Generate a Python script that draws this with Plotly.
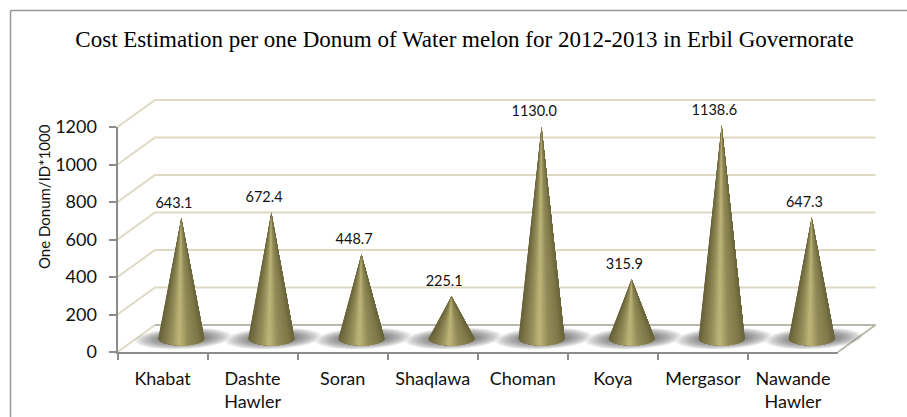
import math
import plotly.graph_objects as go

title = "Cost Estimation per one Donum of Water melon for 2012-2013 in Erbil Governorate"
y_title = "One Donum/ID*1000"
categories = ["Khabat", "Dashte<br>Hawler", "Soran", "Shaqlawa", "Choman", "Koya", "Mergasor", "Nawande<br>Hawler"]
values = [643.1, 672.4, 448.7, 225.1, 1130.0, 315.9, 1138.6, 647.3]
y_ticks = [0, 200, 400, 600, 800, 1000, 1200]

W, H = 907, 417
L, R, B, T = 117.5, 838.0, 352.0, 127.0      # front plot box, pixels
DX, DY = 37.5, 27.0                          # depth offset, pixels
ux = (R - L) / len(categories)               # pixels per category
uy = (B - T) / 1200.0                        # pixels per value unit
dx, dy = DX / ux, DY / uy                    # depth in data units
rx, ry = 23.0 / ux, 7.0 / uy                 # cone base radii

GRID = "#ddd9c3"
AXIS = "#8c8c8c"
STOPS = [(0.0, (104, 99, 58)), (0.12, (125, 119, 72)), (0.35, (146, 139, 88)),
         (0.55, (192, 182, 122)), (0.72, (150, 143, 90)), (1.0, (102, 97, 56))]


def shade(t):
    for (a, ca), (b, cb) in zip(STOPS, STOPS[1:]):
        if t <= b:
            f = (t - a) / (b - a)
            return "rgb(%d,%d,%d)" % tuple(round(p + (q - p) * f) for p, q in zip(ca, cb))
    return "rgb(%d,%d,%d)" % STOPS[-1][1]


fig = go.Figure()
common = dict(xaxis="x", yaxis="y", hoverinfo="skip", showlegend=False)

# back wall and side wall gridlines
gx, gy = [], []
for v in y_ticks[1:]:
    gx += [0, dx, len(categories) + dx, None]
    gy += [v, v + dy, v + dy, None]
fig.add_trace(go.Scatter(x=gx, y=gy, mode="lines", line=dict(color=GRID, width=2), **common))

# floor
n = len(categories)
fig.add_trace(go.Scatter(x=[0, dx, n + dx, n, 0], y=[0, dy, dy, 0, 0], mode="lines", fill="toself",
                         fillcolor="#ffffff", line=dict(color="rgba(0,0,0,0)", width=0), **common))
fig.add_trace(go.Scatter(x=[0, dx], y=[0, dy], mode="lines", line=dict(color=GRID, width=2), **common))
fig.add_trace(go.Scatter(x=[dx, n + dx, n], y=[dy, dy, 0], mode="lines", line=dict(color="#b8b8ac", width=2), **common))

# soft floor shadows, one stacked layer of sheared ellipses per step
centers = [i + 0.5 + dx / 2 for i in range(n)]
LAYERS = 18
for k in range(LAYERS):
    f = 1 - k / LAYERS
    A = (0.4 + 0.6 * f) * 48 / ux
    Bv = (0.35 + 0.65 * f) * 11 / uy
    shear = 0.9 * (0.35 + 0.65 * f) * 11 / ux
    sx, sy = [], []
    for c in centers:
        for a in range(41):
            th = 2 * math.pi * a / 40
            sx.append(c + 2 / ux + A * math.cos(th) + shear * math.sin(th))
            sy.append(dy / 2 + Bv * math.sin(th))
        sx.append(None)
        sy.append(None)
    fig.add_trace(go.Scatter(x=sx, y=sy, mode="lines", fill="toself", fillcolor="rgba(80,80,80,0.055)",
                             line=dict(width=0, color="rgba(0,0,0,0)"), **common))

# cones: painted left to right, each layer covering everything still to its right
STRIPS = 32
for s in range(STRIPS):
    a0 = math.pi - math.pi * s / STRIPS
    a1 = math.pi - math.pi * (s + 1) / STRIPS
    arc = [a0 - (a0 / 12) * j for j in range(13)]
    px, py = [], []
    for c, v in zip(centers, values):
        tip = v + dy / 2
        px += [c] + [c + rx * math.cos(a) for a in arc] + [c, None]
        py += [tip] + [dy / 2 - ry * math.sin(a) for a in arc] + [tip, None]
    col = shade((math.cos((a0 + a1) / 2) * -1 + 1) / 2)
    fig.add_trace(go.Scatter(x=px, y=py, mode="lines", fill="toself", fillcolor=col,
                             line=dict(color="rgba(0,0,0,0)", width=0), **common))

# data labels
fig.add_trace(go.Scatter(x=[c - 7.3 / ux for c in centers], y=[v + dy / 2 + 14 / uy for v in values],
                         text=["%.1f" % v for v in values], mode="text", textposition="middle center",
                         textfont=dict(family="Lato", size=14.5, color="#111111"), **common))

# the real axes carry the categories and values
fig.add_trace(go.Scatter(x=categories, y=values, mode="markers", marker=dict(opacity=0), xaxis="x2", yaxis="y2",
                         hoverinfo="x+y", showlegend=False))

fig.update_layout(
    width=W, height=H, margin=dict(l=0, r=0, t=0, b=0, autoexpand=False),
    paper_bgcolor="#ffffff", plot_bgcolor="rgba(0,0,0,0)",
    title=dict(text=title, x=464.5 / W, y=1 - 39 / H, xanchor="center", yanchor="middle",
               font=dict(family="Liberation Serif", size=23, color="#000000")),
    xaxis=dict(domain=[0, 1], range=[-L / ux, (W - L) / ux], visible=False, fixedrange=True),
    yaxis=dict(domain=[0, 1], range=[-(H - B) / uy, B / uy], visible=False, fixedrange=True),
    xaxis2=dict(domain=[L / W, R / W], anchor="y2", type="category", categoryorder="array", categoryarray=categories,
                range=[-0.5, 7.5], tickson="boundaries", ticks="outside", ticklen=6, tickwidth=1.5, tickcolor=AXIS,
                showline=True, linecolor=AXIS, linewidth=2, showgrid=False, tickangle=0, ticklabelstandoff=9,
                tickfont=dict(family="Lato", size=18, color="#111111"), fixedrange=True),
    yaxis2=dict(domain=[(H - B) / H, (H - T) / H], anchor="x2", range=[0, 1200], tickvals=y_ticks,
                ticks="outside", ticklen=7, tickwidth=1.5, tickcolor=AXIS, showline=True, linecolor=AXIS,
                linewidth=2, showgrid=False, zeroline=False, ticklabelstandoff=8,
                tickfont=dict(family="Lato", size=18, color="#111111"), fixedrange=True),
    shapes=[dict(type="line", xref="paper", yref="paper", x0=10.5 / W, x1=1, y0=1 - 10.5 / H, y1=1 - 10.5 / H,
                 line=dict(color="#969696", width=1.5)),
            dict(type="line", xref="paper", yref="paper", x0=10.5 / W, x1=10.5 / W, y0=1 - 10.5 / H, y1=0,
                 line=dict(color="#969696", width=1.5))],
    annotations=[dict(text=y_title, xref="paper", yref="paper", x=44 / W, y=1 - 197 / H, textangle=-90,
                      showarrow=False, xanchor="center", yanchor="middle",
                      font=dict(family="Lato", size=15, color="#111111"))],
)

fig.write_html("out.html", config={"displayModeBar": False}, post_script="document.body.style.margin='0';")
